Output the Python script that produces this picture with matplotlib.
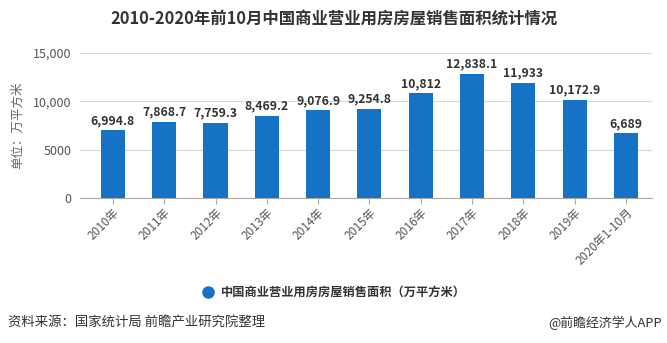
import matplotlib.pyplot as plt
from matplotlib.ticker import FuncFormatter

plt.rcParams['font.family'] = ['Noto Sans CJK SC', 'DejaVu Sans']

years = ['2010年', '2011年', '2012年', '2013年', '2014年', '2015年',
         '2016年', '2017年', '2018年', '2019年', '2020年1-10月']
area = [6994.8, 7868.7, 7759.3, 8469.2, 9076.9, 9254.8,
        10812, 12838.1, 11933, 10172.9, 6689]
yticks = [0, 5000, 10000, 15000]

bar_color = '#1572c4'
grey = '#555555'

fig = plt.figure(figsize=(6.67, 3.43), dpi=100)
ax = fig.add_axes([0.12, 0.4227, 0.857, 0.4228])

x = range(len(years))
ax.bar(x, area, width=0.47, color=bar_color, zorder=3)

for i, v in enumerate(area):
    txt = f'{v:,.0f}' if v == int(v) else f'{v:,.1f}'
    ax.text(i, v + 350, txt, ha='center', va='bottom', fontsize=8.8,
            fontweight='bold', color='#333333')

ax.set_ylim(0, 15000)
ax.set_xlim(-0.64, 10.5)
ax.set_yticks(yticks)
ax.yaxis.set_major_formatter(FuncFormatter(
    lambda v, p: '5000' if v == 5000 else f'{v:,.0f}'))
ax.grid(axis='y', color='#d9d9d9', linewidth=0.8, zorder=0)
ax.set_xticks(list(x))
ax.set_xticklabels(years, rotation=45, ha='right', rotation_mode='anchor',
                   fontsize=8.5, color=grey)
ax.tick_params(axis='y', length=0, labelsize=9, labelcolor=grey, pad=6)
ax.tick_params(axis='x', length=4, color='#aaaaaa', pad=2)
for s in ['top', 'right', 'left']:
    ax.spines[s].set_visible(False)
ax.spines['bottom'].set_color('#aaaaaa')

ax.set_ylabel('单位：万平方米', fontsize=9, color='#666666')
ax.yaxis.set_label_coords(-0.097, 0.5)

fig.text(0.5, 0.947, '2010-2020年前10月中国商业营业用房房屋销售面积统计情况',
         ha='center', va='center', fontsize=11.8, fontweight='bold', color='#333333')

# legend
fig.lines.append(plt.Line2D([0.312], [1 - 292 / 343], marker='o', markersize=8,
                            color=bar_color, transform=fig.transFigure))
fig.text(0.331, 1 - 292 / 343, '中国商业营业用房房屋销售面积（万平方米）',
         ha='left', va='center', fontsize=8.8, fontweight='bold', color='#333333')

fig.text(0.012, 1 - 323 / 343, '资料来源：国家统计局 前瞻产业研究院整理',
         ha='left', va='center', fontsize=9.6, color='#333333')
fig.text(0.993, 1 - 323 / 343, '@前瞻经济学人APP',
         ha='right', va='center', fontsize=9.3, color='#333333')

fig.savefig('out.png', dpi=100)
